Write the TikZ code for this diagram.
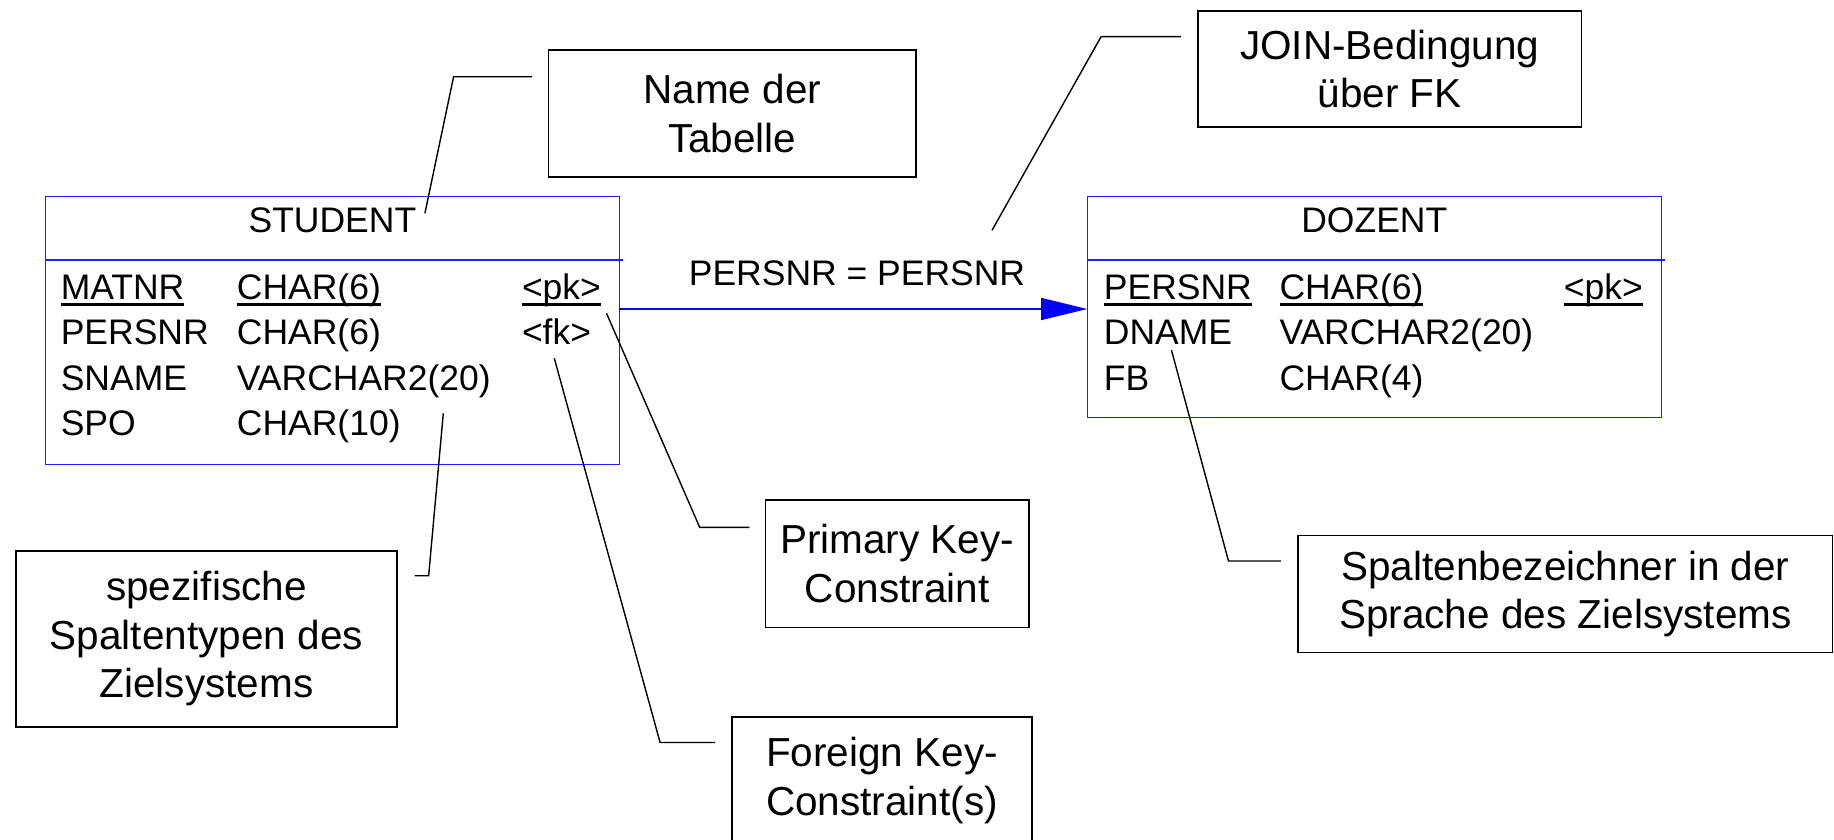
\documentclass[tikz,border=0pt]{standalone}
\usepackage{fontspec}
\setmainfont{Liberation Sans}
\usetikzlibrary{arrows.meta}

% underlined key column entry: rule drawn under the full width of the text
\newcommand{\keyline}[1]{\setbox0=\hbox{#1}\rlap{\rule[-6.5pt]{\wd0}{2.2pt}}\box0}

\definecolor{tblblue}{RGB}{30,30,255}

\tikzset{
  tablebox/.style={draw=tblblue, line width=1.2pt, minimum width=574pt,
    inner sep=0pt, outer sep=0pt, anchor=north west},
  tblline/.style={draw=tblblue, line width=1.2pt},
  tabtext/.style={font=\fontsize{35.5}{42}\selectfont, inner sep=0pt, anchor=base west},
  tabtitle/.style={font=\fontsize{35.5}{42}\selectfont, inner sep=0pt, anchor=base},
  callout/.style={draw, line width=1.7pt, inner sep=0pt, outer sep=0pt, align=center,
    font=\fontsize{40.5}{48.5}\selectfont},
  leader/.style={line width=1.4pt},
  fkarrow/.style={draw=blue, line width=1.1pt, -{Triangle[length=46pt, width=22pt]}},
}

\begin{document}
\begin{tikzpicture}[x=1pt, y=-1pt]
\useasboundingbox (0,0) rectangle (1834,840);
\fill[white] (0,0) rectangle (1834,840);

% ---------- table STUDENT ----------
\node[tablebox, minimum height=267.6pt] (student) at (45.3,196.7) {};
\draw[tblline] ([yshift=-63.3pt]student.north west) -- ([xshift=3.6pt,yshift=-63.3pt]student.north east);
\node[tabtitle] (stitle) at (332.4,232) {STUDENT};

\node[tabtext] (s1n) at (60.6,299)   {\keyline{MATNR}};
\node[tabtext] (s1t) at (236.7,299)  {\keyline{CHAR(6)}};
\node[tabtext] (s1k) at (521.8,299)  {\keyline{<pk>}};
\node[tabtext] (s2n) at (60.6,344.5) {PERSNR};
\node[tabtext] (s2t) at (236.7,344.5){CHAR(6)};
\node[tabtext] (s2k) at (521.8,344.5){<fk>};
\node[tabtext] (s3n) at (60.6,390)   {SNAME};
\node[tabtext] (s3t) at (236.7,390)  {VARCHAR2(20)};
\node[tabtext] (s4n) at (60.6,435.5) {SPO};
\node[tabtext] (s4t) at (236.7,435.5){CHAR(10)};

% ---------- table DOZENT ----------
\node[tablebox, minimum height=221pt] (dozent) at (1087.2,196.7) {};
\draw[tblline] ([yshift=-63.3pt]dozent.north west) -- ([xshift=3.6pt,yshift=-63.3pt]dozent.north east);
\node[tabtitle] (dtitle) at (1374.3,232) {DOZENT};

\node[tabtext] (d1n) at (1103.7,299)   {\keyline{PERSNR}};
\node[tabtext] (d1t) at (1279.3,299)   {\keyline{CHAR(6)}};
\node[tabtext] (d1k) at (1563.7,299)   {\keyline{<pk>}};
\node[tabtext] (d2n) at (1103.7,344.5) {DNAME};
\node[tabtext] (d2t) at (1279.3,344.5) {VARCHAR2(20)};
\node[tabtext] (d3n) at (1103.7,390)   {FB};
\node[tabtext] (d3t) at (1279.3,390)   {CHAR(4)};

% ---------- reference STUDENT -> DOZENT ----------
\draw[fkarrow] ([yshift=-112.3pt]student.north east) -- ([yshift=-112.3pt]dozent.north west);
\node[tabtitle] (joinlabel) at (857,285) {PERSNR = PERSNR};

% ---------- explanatory callouts ----------
\node[callout, minimum width=367.4pt, minimum height=126.7pt] (nameBox) at (732.2,113.4) {Name der\\Tabelle};
\node[callout, minimum width=383.5pt, minimum height=116.6pt] (joinBox) at (1389.7,69) {JOIN-Bedingung\\über FK};
\node[callout, minimum width=263.6pt, minimum height=127.3pt] (pkBox) at (897.2,563.7) {Primary Key-\\Constraint};
\node[callout, minimum width=299.4pt, minimum height=127.6pt] (fkBox) at (882,780.5) {Foreign Key-\\Constraint(s)};
\node[callout, minimum width=380.7pt, minimum height=176pt] (specBox) at (206.4,638.7) {spezifische\\Spaltentypen des\\Zielsystems};
\node[callout, minimum width=534.2pt, minimum height=117pt] (colBox) at (1565.4,594) {Spaltenbezeichner in der\\Sprache des Zielsystems};

% leader lines ending at the explained items
\coordinate (nameTip) at (424.9,213.3);
\coordinate (joinTip) at (992,230.3);
\coordinate (pkTip)   at (606.5,313.3);
\coordinate (fkTip)   at (554.3,358.3);
\coordinate (specTip) at (443.3,413.3);
\coordinate (colTip)  at (1171.4,350);

\draw[leader] ([shift={(-16.5,26.7)}]nameBox.north west) -- ++(-78.4,0) -- (nameTip);
\draw[leader] ([shift={(-17.1,26)}]joinBox.north west) -- ++(-79.8,0) -- (joinTip);
\draw[leader] ([shift={(-16,27.3)}]pkBox.north west) -- ++(-49.7,0) -- (pkTip);
\draw[leader] ([shift={(-17.3,25.8)}]fkBox.north west) -- ++(-54.9,0) -- (fkTip);
\draw[leader] ([shift={(17.9,25)}]specBox.north east) -- ++(14,0) -- (specTip);
\draw[leader] ([shift={(-17.4,25.5)}]colBox.north west) -- ++(-52.4,0) -- (colTip);
\end{tikzpicture}
\end{document}
